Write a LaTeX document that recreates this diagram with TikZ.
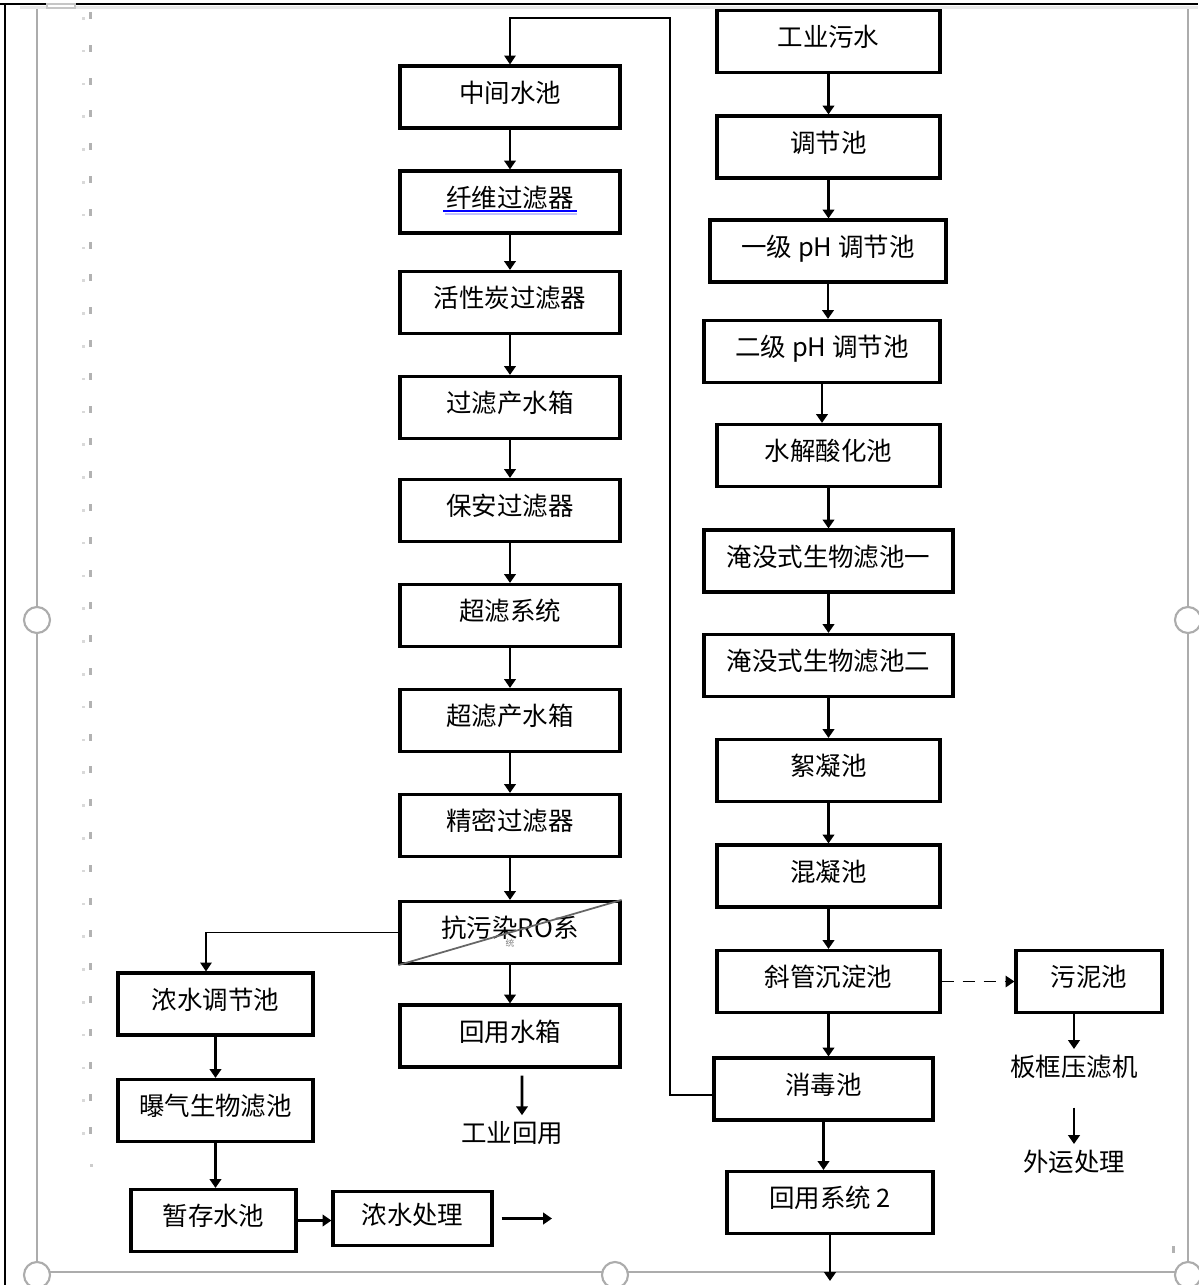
\documentclass[tikz,border=0pt]{standalone}
\usepackage{fontspec}
\setmainfont{Noto Sans CJK SC}
\usetikzlibrary{arrows.meta}

\tikzset{
  box/.style={draw, line width=1.8pt, minimum height=1.24cm, inner ysep=0.1cm,
    text height=0.62cm, text depth=0.42cm, align=center,
    font=\fontsize{14.5}{17}\selectfont},
  lbl/.style={font=\fontsize{14.5}{17}\selectfont},
  arr/.style={line width=1.6pt, -{Triangle[width=6.5pt,length=5pt]}},
  thinarr/.style={line width=0.8pt, -{Triangle[width=6.5pt,length=5pt]}},
  dasharr/.style={line width=0.9pt, dash pattern=on 7pt off 5pt, -{Triangle[width=6.5pt,length=5pt]}},
  frame/.style={gray!65, line width=1.2pt}
}

\begin{document}
\begin{tikzpicture}[x=0.02cm, y=-0.02cm]
\useasboundingbox (0,0) rectangle (1198,1285);

% page frame
\fill[gray!18] (20,6) rectangle (1198,9);
\draw[line width=1.5pt] (0,4) -- (1198,4);
\draw[line width=1.5pt] (5,4) -- (5,1285);
\draw[gray!45, line width=1pt, fill=white] (47,4) rectangle (75,8);
\draw[frame] (37,9) -- (37,1285) (1188,9) -- (1188,1285) (37,1272) -- (1188,1272);
\foreach \p in {(37,620),(1188,620),(37,1275),(615,1275),(1188,1275)}
  \draw[frame, fill=white] \p circle (13);
\foreach \i in {0,...,34}{
  \fill[gray!30] (82,17+32.8*\i) rectangle ++(2.5,2.5);
  \fill[gray!60] (89,12+32.8*\i) rectangle ++(2.5,7);
}
\fill[gray!40] (90,1164) rectangle ++(2.5,2.5);
\fill[gray!60] (1172,1246) rectangle ++(2.5,7);

% middle column
\node[box, minimum width=4.4cm] (mid1) at (510,97) {中间水池};
\node[box, minimum width=4.4cm] (mid2) at (510,202) {纤维过滤器};
\node[box, minimum width=4.4cm] (mid3) at (510,302.5) {活性炭过滤器};
\node[box, minimum width=4.4cm] (mid4) at (510,407.5) {过滤产水箱};
\node[box, minimum width=4.4cm] (mid5) at (510,510.5) {保安过滤器};
\node[box, minimum width=4.4cm] (mid6) at (510,615.5) {超滤系统};
\node[box, minimum width=4.4cm] (mid7) at (510,720.5) {超滤产水箱};
\node[box, minimum width=4.4cm] (mid8) at (510,825.5) {精密过滤器};
\node[box, minimum width=4.4cm] (ro) at (510,932.5) {抗污染RO系};
\node[font=\tiny, text=gray] (rotail) at (510,943) {统};
\node[box, minimum width=4.4cm] (tank) at (510,1036) {回用水箱};
\node[lbl] (reuse) at (512,1133) {工业回用};
\draw[blue, line width=1.3pt] (443,211) -- (577,211);
\draw[blue!25, line width=1pt] (445,214) -- (577,214);
\draw[gray!80!black, line width=1pt] (ro.south west) -- (ro.north east);

% right column
\node[box, minimum width=4.46cm] (r1) at (828.5,41.5) {工业污水};
\node[box, minimum width=4.46cm] (r2) at (828.5,147) {调节池};
\node[box, minimum width=4.72cm] (r3) at (828,251) {一级 pH 调节池};
\node[box, minimum width=4.72cm] (r4) at (822,351.5) {二级 pH 调节池};
\node[box, minimum width=4.46cm] (r5) at (828.5,455.5) {水解酸化池};
\node[box, minimum width=4.98cm] (r6) at (828.5,561) {淹没式生物滤池一};
\node[box, minimum width=4.98cm] (r7) at (828.5,665.5) {淹没式生物滤池二};
\node[box, minimum width=4.46cm] (r8) at (828.5,770.5) {絮凝池};
\node[box, minimum width=4.46cm] (r9) at (828.5,876) {混凝池};
\node[box, minimum width=4.46cm] (r10) at (828.5,981.5) {斜管沉淀池};
\node[box, minimum width=4.38cm] (r11) at (823.5,1089) {消毒池};
\node[box, minimum width=4.12cm] (r12) at (830,1202.5) {回用系统 2};
\coordinate (r12out) at (822,1281);

% sludge line
\node[box, minimum width=2.92cm] (sludge) at (1089,981.5) {污泥池};
\node[lbl] (press) at (1074,1067) {板框压滤机};
\node[lbl] (out) at (1074,1162) {外运处理};

% concentrate line
\node[box, minimum width=3.9cm] (c1) at (215.5,1004) {浓水调节池};
\node[box, minimum width=3.9cm] (c2) at (215.5,1110.5) {曝气生物滤池};
\node[box, minimum width=3.3cm] (c3) at (213.5,1220.5) {暂存水池};
\node[box, minimum width=3.18cm, minimum height=1.06cm, text height=0.55cm, text depth=0.32cm] (c4) at (412.5,1218.5) {浓水处理};
\coordinate (drain) at (552,1218.5);

% connectors
\foreach \a/\b in {mid1/mid2,mid2/mid3,mid3/mid4,mid4/mid5,mid5/mid6,mid6/mid7,mid7/mid8,mid8/ro,ro/tank}
  \draw[arr] (\a.south) -- (\a.south |- \b.north);
\foreach \a/\b in {r1/r2,r2/r3,r3/r4,r4/r5,r5/r6,r6/r7,r7/r8,r8/r9,r9/r10,r10/r11,r11/r12}
  \draw[arr] (\a.south) -- (\a.south |- \b.north);
\draw[arr] (r12.south) -- (r12.south |- r12out);
\draw[arr] ([xshift=0.24cm, yshift=-0.14cm]tank.south) -- ([xshift=0.2cm]reuse.north);
\draw[dasharr] (r10.east) -- (sludge.west);
\draw[arr] (sludge.south -| press.north) -- (press.north);
\draw[arr] ([yshift=-0.45cm]press.south) -- (out.north);
\coordinate (loop) at (670,18);
\draw[thinarr] ([yshift=-0.12cm]r11.west) -| (loop) -| (mid1.north);
\draw[thinarr] (ro.west) -| ([xshift=-0.19cm]c1.north);
\draw[arr] (c1.south) -- (c1.south |- c2.north);
\draw[arr] (c2.south) -- (c2.south |- c3.north);
\draw[arr] (c3.east) -- (c3.east -| c4.west);
\draw[arr] ([xshift=0.16cm]c4.east) -- (c4.east -| drain);
\end{tikzpicture}
\end{document}
